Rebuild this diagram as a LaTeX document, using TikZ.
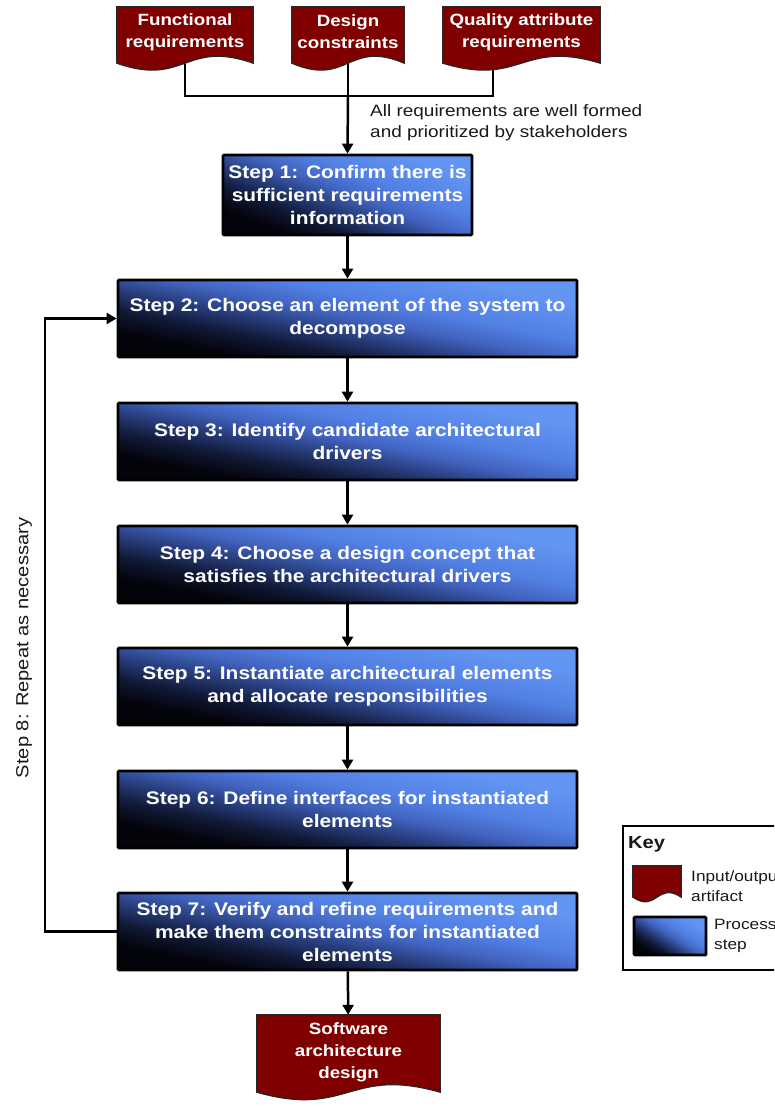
\documentclass[tikz,border=0pt]{standalone}
\usepackage{fontspec}
\setmainfont{Liberation Sans}[FakeStretch=1.15]
\usetikzlibrary{arrows.meta,calc}
\definecolor{docred}{RGB}{128,0,0}
\definecolor{gc0}{RGB}{3,3,10}
\definecolor{gc1}{RGB}{16,24,52}
\definecolor{gc2}{RGB}{40,62,125}
\definecolor{gc3}{RGB}{66,100,192}
\definecolor{gc4}{RGB}{82,128,228}
\definecolor{gc5}{RGB}{98,148,242}
\pgfdeclarehorizontalshading{stepgrad}{100bp}{color(0bp)=(gc0); color(25bp)=(gc0); color(34bp)=(gc1); color(43bp)=(gc2); color(51bp)=(gc3); color(60bp)=(gc4); color(75bp)=(gc5); color(100bp)=(gc5)}
\pgfdeclarelayer{lines}
\pgfdeclarelayer{bg}
\pgfsetlayers{lines,bg,main}
\newcommand\docbg[3]{%
  \begin{pgfonlayer}{bg}
    \draw[docshape] (#1.north west) -- (#1.north east) -- ($(#1.south east)+(0,-#2)$)
      .. controls ($(#1.south)+(0,-#2+#3)$) and ($(#1.south)+(0,-#2-#3)$) .. ($(#1.south west)+(0,-#2)$) -- cycle;
  \end{pgfonlayer}}
\newcommand\stepfill[3]{%
  \begin{pgfonlayer}{bg}
    \shade[shading=stepgrad, shading angle=40,
      transform canvas={shift={(#1.center)}, xscale=#2/#3}] (-#3/2,-#3/2) rectangle (#3/2,#3/2);
  \end{pgfonlayer}}
\tikzset{
  docshape/.style={fill=docred, draw=black!85, line width=1.2pt},
  docnode/.style={inner sep=0pt, text=white, align=center,
    font=\fontsize{16.3}{22}\selectfont\bfseries},
  stepbox/.style={draw=black, line width=2.8pt, rounded corners=1pt,
    text=white, align=center, inner sep=0pt,
    font=\fontsize{18.2}{23}\selectfont\bfseries},
  conn/.style={line width=2.5pt, black},
  arr/.style={conn, -{Triangle[length=10pt,width=11pt]}},
  plain/.style={inner sep=0pt, align=left, text=black!90}
}
\begin{document}
\begin{tikzpicture}[x=1pt,y=1pt]
\useasboundingbox (0,0) rectangle (774,-1107);
\clip (0,0) rectangle (774,-1107);

% input artifacts
\node[docnode, minimum width=136, minimum height=50] (fr) at (185,-32) {Functional\\requirements};
\docbg{fr}{6}{24}
\node[docnode, minimum width=112, minimum height=50] (dc) at (348,-32) {Design\\constraints};
\docbg{dc}{6}{24}
\node[docnode, minimum width=157, minimum height=50] (qa) at (521.5,-32) {Quality attribute\\requirements};
\docbg{qa}{6}{24}

\coordinate (jm) at (348,-96);
\coordinate (qo) at (493,-60);

\node[plain, anchor=north west, font=\fontsize{16.5}{21}\selectfont] (lbl) at (370,-104)
  {All requirements are well formed\\and prioritized by stakeholders};

% steps
\node[stepbox, minimum width=249, minimum height=80] (s1) at (347.5,-195)
  {Step 1: Confirm there is\\sufficient requirements\\information};
\stepfill{s1}{249}{80}
\node[stepbox, minimum width=459, minimum height=77] (s2) at (347.5,-318.5)
  {Step 2: Choose an element of the system to\\decompose};
\stepfill{s2}{459}{77}
\node[stepbox, minimum width=459, minimum height=77] (s3) at (347.5,-441.5)
  {Step 3: Identify candidate architectural\\drivers};
\stepfill{s3}{459}{77}
\node[stepbox, minimum width=459, minimum height=77] (s4) at (347.5,-564.5)
  {Step 4: Choose a design concept that\\satisfies the architectural drivers};
\stepfill{s4}{459}{77}
\node[stepbox, minimum width=459, minimum height=77] (s5) at (347.5,-686.5)
  {Step 5: Instantiate architectural elements\\and allocate responsibilities};
\stepfill{s5}{459}{77}
\node[stepbox, minimum width=459, minimum height=77] (s6) at (347.5,-809.5)
  {Step 6: Define interfaces for instantiated\\elements};
\stepfill{s6}{459}{77}
\node[stepbox, minimum width=459, minimum height=77] (s7) at (347.5,-931.5)
  {Step 7: Verify and refine requirements and\\make them constraints for instantiated\\elements};
\stepfill{s7}{459}{77}

% output artifact
\node[docnode, minimum width=183, minimum height=74] (out) at (348.5,-1052)
  {Software\\architecture\\design};
\docbg{out}{3}{26}

% connectors
\begin{pgfonlayer}{lines}
  \draw[conn] (fr.south) |- (jm) -| (qo);
  \draw[line width=1.2pt] (dc.south) -- (jm);
\end{pgfonlayer}
\draw[arr] (jm) -- (s1.north);
\draw[arr] (s1) -- (s2);
\draw[arr] (s2) -- (s3);
\draw[arr] (s3) -- (s4);
\draw[arr] (s4) -- (s5);
\draw[arr] (s5) -- (s6);
\draw[arr] (s6) -- (s7);
\draw[arr] (s7) -- (out);

\coordinate (fb) at (45,-600);
\draw[arr, line width=2.3pt] (s7.west) -- (s7.west -| fb) -- (s2.west -| fb) -- (s2.west);
\node[plain, rotate=90, font=\fontsize{17.5}{21}\selectfont] (s8) at (24,-648) {Step 8: Repeat as necessary};

% key
\node[draw=black, line width=1.5pt, minimum width=177, minimum height=144, inner sep=0pt] (key) at (711.5,-898) {};
\node[plain, anchor=west, font=\fontsize{17.5}{21}\selectfont\bfseries] (keyt) at (628,-844) {Key};
\node[inner sep=0pt, minimum width=48, minimum height=26] (kdoc) at (657,-879) {};
\docbg{kdoc}{5}{16}
\node[plain, anchor=north west, font=\fontsize{15}{20}\selectfont] (kdoct) at (691,-870) {Input/output\\artifact};
\node[stepbox, minimum width=72, minimum height=38] (kstep) at (670,-936) {};
\stepfill{kstep}{72}{38}
\node[plain, anchor=north west, font=\fontsize{15}{20}\selectfont] (ksteptt) at (714,-919) {Process\\step};
\end{tikzpicture}
\end{document}
